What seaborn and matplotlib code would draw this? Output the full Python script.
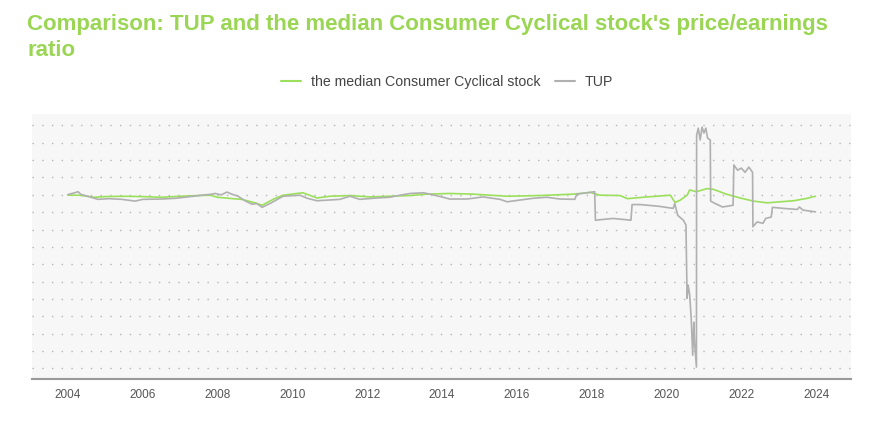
import matplotlib
matplotlib.use('Agg')
import matplotlib.pyplot as plt
import pandas as pd
import seaborn as sns

# Median Consumer Cyclical stock P/E (fractional year, value)
median_years = [2004.0, 2004.3, 2004.7, 2005.0, 2005.5, 2006.0, 2006.5, 2007.0, 2007.5, 2007.8,
                2008.0, 2008.3, 2008.65, 2009.0, 2009.19, 2009.5, 2009.75, 2010.28, 2010.66, 2011.0,
                2011.54, 2012.07, 2012.6, 2013.14, 2013.6, 2014.2, 2014.83, 2015.74, 2016.62, 2017.5,
                2017.96, 2018.22, 2018.76, 2018.95, 2019.48, 2020.1, 2020.23, 2020.37, 2020.55, 2020.62,
                2020.8, 2021.08, 2021.25, 2021.6, 2021.97, 2022.32, 2022.7, 2023.04, 2023.4, 2023.76,
                2023.98]
median_pe = [49.9, 49.9, 49.3, 49.5, 49.6, 49.5, 49.3, 49.6, 49.8, 49.9,
             49.3, 49.0, 48.7, 47.7, 47.0, 48.8, 49.9, 50.6, 49.1, 49.6,
             49.8, 49.4, 49.6, 49.8, 50.2, 50.4, 50.2, 49.6, 49.8, 50.2,
             50.7, 49.9, 49.8, 48.9, 49.4, 49.9, 47.8, 48.5, 49.9, 51.4,
             50.9, 51.8, 51.6, 50.2, 49.1, 48.2, 47.7, 48.0, 48.3, 49.0,
             49.6]

# TUP P/E (fractional year, value)
tup_years = [2004.0, 2004.15, 2004.27, 2004.35, 2004.53, 2004.8, 2005.1, 2005.44, 2005.8, 2006.0,
             2006.5, 2006.87, 2007.2, 2007.58, 2007.85, 2007.93, 2008.1, 2008.25, 2008.38, 2008.55,
             2008.73, 2008.92, 2009.05, 2009.19, 2009.4, 2009.75, 2010.2, 2010.4, 2010.66, 2011.27,
             2011.54, 2011.8, 2012.26, 2012.6, 2012.88, 2013.15, 2013.5, 2013.68, 2014.03, 2014.2,
             2014.67, 2015.1, 2015.55, 2015.74, 2016.08, 2016.43, 2016.8, 2017.15, 2017.55, 2017.6,
             2017.88, 2018.08, 2018.1, 2018.57, 2019.05, 2019.08, 2019.3, 2019.8, 2020.18, 2020.22,
             2020.3, 2020.45, 2020.52, 2020.55, 2020.58, 2020.62, 2020.66, 2020.7, 2020.73, 2020.75,
             2020.8, 2020.805, 2020.85, 2020.9, 2020.95, 2021.0, 2021.05, 2021.1, 2021.17, 2021.18,
             2021.3, 2021.5, 2021.78, 2021.8, 2021.9, 2022.0, 2022.1, 2022.2, 2022.3, 2022.31,
             2022.42, 2022.58, 2022.65, 2022.8, 2022.83, 2023.12, 2023.5, 2023.55, 2023.65, 2023.98]
tup_pe = [50.1, 50.5, 50.9, 50.1, 49.6, 48.7, 48.9, 48.7, 48.2, 48.7,
          48.8, 49.0, 49.4, 49.9, 50.2, 50.4, 50.0, 50.8, 50.2, 49.6,
          48.3, 47.3, 47.5, 46.4, 47.5, 49.6, 49.9, 49.0, 48.3, 48.7,
          49.6, 48.7, 49.1, 49.3, 49.9, 50.4, 50.6, 50.2, 49.3, 48.8,
          48.8, 49.4, 48.7, 48.0, 48.5, 49.0, 49.3, 48.8, 48.7, 50.2,
          50.6, 50.9, 42.7, 43.2, 42.7, 47.2, 47.2, 46.7, 46.1, 47.5,
          44.1, 42.7, 41.3, 20.2, 24.0, 21.1, 14.5, 3.8, 13.3, 7.5,
          0.4, 67.2, 69.2, 65.8, 69.5, 67.8, 69.2, 66.3, 65.8, 48.2,
          47.5, 46.5, 47.0, 58.6, 57.1, 57.7, 56.5, 58.0, 56.5, 40.8,
          42.2, 41.8, 43.2, 43.6, 46.4, 46.1, 45.8, 46.5, 45.6, 45.1]

year_ticks = list(range(2004, 2025, 2))
series_names = ['the median Consumer Cyclical stock', 'TUP']

df = pd.concat([
    pd.DataFrame({'year': median_years, 'pe': median_pe, 'series': series_names[0]}),
    pd.DataFrame({'year': tup_years, 'pe': tup_pe, 'series': series_names[1]}),
])

sns.set_style('white')
plt.rcParams['font.family'] = ['Liberation Sans', 'DejaVu Sans']

fig = plt.figure(figsize=(8.8, 4.4), dpi=100)
ax = fig.add_axes([0.0364, 0.139, 0.931, 0.602])
ax.set_facecolor('#f7f7f7')

sns.lineplot(data=df, x='year', y='pe', hue='series', estimator=None, sort=False,
             palette={series_names[0]: '#9be05a', series_names[1]: '#b0b0b0'},
             linewidth=1.2, ax=ax, legend=False)

ax.set_xlim(2003.04, 2024.94)
ax.set_ylim(-3.0, 73.3)
ax.set_yticks(range(0, 75, 5))
ax.set_yticklabels([])
ax.tick_params(axis='y', length=0)
ax.set_xticks(year_ticks)
ax.set_xticklabels([str(y) for y in year_ticks])
ax.tick_params(axis='x', length=4, width=1, color='#999999', labelsize=8.5,
               labelcolor='#555555', pad=3)
ax.grid(axis='y', color='#b5b5b5', linestyle=(0, (1, 6)), linewidth=1)
ax.set_axisbelow(True)
for s in ['top', 'right', 'left']:
    ax.spines[s].set_visible(False)
ax.spines['bottom'].set_color('#999999')
ax.spines['bottom'].set_linewidth(1.5)
ax.set_xlabel('')
ax.set_ylabel('')

# legend
handles = [plt.Line2D([], [], color='#9be05a', lw=1.5),
           plt.Line2D([], [], color='#b0b0b0', lw=1.5)]
fig.legend(handles, series_names, loc='center', bbox_to_anchor=(0.508, 0.814), ncol=2,
           frameon=False, fontsize=10.2, labelcolor='#444444', handlelength=1.4,
           handletextpad=0.7, columnspacing=1.0)

fig.text(0.031, 0.968, "Comparison: TUP and the median Consumer Cyclical stock's price/earnings\nratio",
         ha='left', va='top', fontsize=16, fontweight='bold', color='#9ad654', linespacing=1.3)

fig.savefig('out.png', dpi=100)
